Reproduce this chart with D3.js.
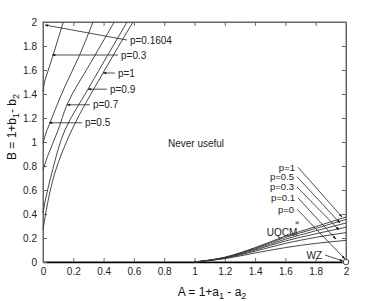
<!DOCTYPE html>
<html>
<head>
<meta charset="utf-8">
<script src="https://cdn.jsdelivr.net/npm/d3@7"></script>
<style>
body { margin: 0; background: #fff; }
text { font-family: "Liberation Sans", Arial, sans-serif; }
</style>
</head>
<body>
<div id="container"></div>
<script>
// left group: curves drawn as (A, B) points, one array per p
var leftP = ["0.3", "0.5", "0.7", "0.9", "1"];
var leftA = [
	[0, 0.01, 0.035, 0.066, 0.1, 0.134],
	[0, 0.013, 0.046, 0.14, 0.24, 0.33],
	[0, 0.03, 0.1, 0.158, 0.31, 0.47],
	[0, 0.013, 0.06, 0.145, 0.297, 0.555],
	[0, 0.02, 0.08, 0.19, 0.396, 0.594]
];
var leftB = [
	[1.42, 1.5, 1.6, 1.72, 1.86, 2],
	[0.99, 1.05, 1.16, 1.45, 1.72, 2],
	[0.77, 0.88, 1.1, 1.31, 1.65, 2],
	[0.41, 0.5, 0.75, 1.1, 1.44, 2],
	[0.27, 0.42, 0.75, 1.1, 1.575, 2]
];

// right group: all start at A=1
var rightA = [1, 1.2, 1.4, 1.6, 1.8, 2];
var rightB = [
	[0, 0.04, 0.12, 0.215, 0.295, 0.375],
	[0, 0.038, 0.115, 0.205, 0.28, 0.355],
	[0, 0.036, 0.108, 0.19, 0.26, 0.325],
	[0, 0.034, 0.1, 0.175, 0.235, 0.29],
	[0, 0.032, 0.09, 0.155, 0.205, 0.245],
	[0, 0.028, 0.075, 0.12, 0.155, 0.18]
];

var xTicks = [0, 0.2, 0.4, 0.6, 0.8, 1, 1.2, 1.4, 1.6, 1.8, 2];
var yTicks = [0, 0.2, 0.4, 0.6, 0.8, 1, 1.2, 1.4, 1.6, 1.8, 2];

// labels with arrows: text, tail (A,B), tip (A,B)
var arrowLabels = [
	{text: "p=0.1604", tail: [0.554, 1.85], tip: [0.013, 1.975], side: "left"},
	{text: "p=0.3", tail: [0.495, 1.725], tip: [0.06, 1.725], side: "left"},
	{text: "p=1", tail: [0.475, 1.575], tip: [0.396, 1.575], side: "left"},
	{text: "p=0.9", tail: [0.422, 1.44], tip: [0.297, 1.44], side: "left"},
	{text: "p=0.7", tail: [0.31, 1.31], tip: [0.158, 1.31], side: "left"},
	{text: "p=0.5", tail: [0.257, 1.16], tip: [0.04, 1.16], side: "left"},
	{text: "p=1", tail: [1.683, 0.79], tip: [1.974, 0.375], side: "right"},
	{text: "p=0.5", tail: [1.677, 0.71], tip: [1.96, 0.325], side: "right"},
	{text: "p=0.3", tail: [1.677, 0.625], tip: [1.954, 0.267], side: "right"},
	{text: "p=0.1", tail: [1.683, 0.535], tip: [1.934, 0.19], side: "right"},
	{text: "p=0", tail: [1.677, 0.44], tip: [1.993, 0.025], side: "right"},
	{text: "WZ", tail: [1.862, 0.058], tip: [1.98, 0.008], side: "right"}
];
var uqcm = [1.677, 0.333];
var wz = [2, 0];

(function()
{
	var W = 382, H = 301;
	var left = 43, right = 346, top = 22, bottom = 262;

	var svg = d3.select("#container").append("svg").attr("width", W).attr("height", H);

	var x = d3.scaleLinear().domain([0, 2]).range([left, right]);
	var y = d3.scaleLinear().domain([0, 2]).range([bottom, top]);

	var fmt = function(d) { return String(d); };

	svg.append("defs").append("marker")
		.attr("id", "head").attr("viewBox", "0 0 10 10")
		.attr("refX", 10).attr("refY", 5)
		.attr("markerWidth", 5).attr("markerHeight", 4)
		.attr("orient", "auto")
		.append("path").attr("d", "M0,1 L10,5 L0,9 z").attr("fill", "#111");

	// box
	svg.append("rect").attr("x", left).attr("y", top)
		.attr("width", right - left).attr("height", bottom - top)
		.attr("fill", "none").attr("stroke", "#666").attr("stroke-width", 1);

	var gx = svg.append("g").attr("transform", "translate(0," + bottom + ")")
		.call(d3.axisBottom(x).tickValues(xTicks).tickFormat(fmt).tickSizeInner(-4).tickSizeOuter(0).tickPadding(6));
	var gy = svg.append("g").attr("transform", "translate(" + left + ",0)")
		.call(d3.axisLeft(y).tickValues(yTicks).tickFormat(fmt).tickSizeInner(-4).tickSizeOuter(0).tickPadding(6));
	var gt = svg.append("g").attr("transform", "translate(0," + top + ")")
		.call(d3.axisTop(x).tickValues(xTicks).tickFormat("").tickSizeInner(-4).tickSizeOuter(0));
	var gr = svg.append("g").attr("transform", "translate(" + right + ",0)")
		.call(d3.axisRight(y).tickValues(yTicks).tickFormat("").tickSizeInner(-4).tickSizeOuter(0));

	[gx, gy, gt, gr].forEach(function(g)
	{
		g.select(".domain").attr("stroke", "#666");
		g.selectAll(".tick line").attr("stroke", "#666");
		g.selectAll(".tick text").attr("fill", "#222").style("font-size", "10px")
			.style("font-family", "Liberation Sans, Arial, sans-serif");
	});
	gx.select(".domain").attr("stroke", "#000").attr("stroke-width", 1.6);

	var line = d3.line().x(function(d) { return x(d[0]); }).y(function(d) { return y(d[1]); })
		.curve(d3.curveMonotoneY);
	var lineR = d3.line().x(function(d) { return x(d[0]); }).y(function(d) { return y(d[1]); })
		.curve(d3.curveMonotoneX);

	leftA.forEach(function(as, i)
	{
		var pts = as.map(function(a, j) { return [a, leftB[i][j]]; });
		svg.append("path").attr("d", line(pts)).attr("fill", "none")
			.attr("stroke", "#333").attr("stroke-width", 0.9);
	});

	rightB.forEach(function(bs)
	{
		var pts = rightA.map(function(a, j) { return [a, bs[j]]; });
		svg.append("path").attr("d", lineR(pts)).attr("fill", "none")
			.attr("stroke", "#333").attr("stroke-width", 0.9);
	});

	// arrows and their labels
	arrowLabels.forEach(function(l)
	{
		svg.append("line")
			.attr("x1", x(l.tail[0])).attr("y1", y(l.tail[1]))
			.attr("x2", x(l.tip[0])).attr("y2", y(l.tip[1]))
			.attr("stroke", "#222").attr("stroke-width", 0.8)
			.attr("marker-end", "url(#head)");
		var t = svg.append("text").text(l.text)
			.attr("y", y(l.tail[1])).attr("dy", "0.35em")
			.attr("fill", "#222");
		if (l.side == "left") t.attr("x", x(l.tail[0]) + 3).style("font-size", "10px");
		else t.attr("x", x(l.tail[0]) - 3).attr("text-anchor", "end")
			.style("font-size", l.text == "WZ" ? "10px" : "9.5px");
	});

	svg.append("text").text("\u00d7").attr("x", x(uqcm[0])).attr("y", y(uqcm[1]))
		.attr("dy", "0.35em").attr("text-anchor", "middle").style("font-size", "8px").attr("fill", "#222");
	svg.append("text").text("UQCM").attr("x", x(uqcm[0]) - 15).attr("y", y(uqcm[1]) + 14)
		.attr("text-anchor", "middle").style("font-size", "10px").attr("fill", "#222");

	svg.append("circle").attr("cx", x(wz[0])).attr("cy", y(wz[1])).attr("r", 2.8)
		.attr("fill", "#fff").attr("stroke", "#222").attr("stroke-width", 0.8);

	svg.append("text").text("Never useful").attr("x", 196).attr("y", 147)
		.attr("text-anchor", "middle").style("font-size", "10px").attr("fill", "#222");

	// axis titles
	var xl = svg.append("text").attr("x", 212).attr("y", 296).attr("text-anchor", "middle")
		.style("font-size", "12px").attr("fill", "#111");
	xl.append("tspan").text("A = 1+a");
	xl.append("tspan").text("1").attr("dy", 3).style("font-size", "9px");
	xl.append("tspan").text(" - a").attr("dy", -3);
	xl.append("tspan").text("2").attr("dy", 3).style("font-size", "9px");

	var yl = svg.append("text").attr("transform", "translate(16,127) rotate(-90)")
		.attr("text-anchor", "middle").style("font-size", "12px").attr("fill", "#111");
	yl.append("tspan").text("B = 1+b");
	yl.append("tspan").text("1").attr("dy", 3).style("font-size", "9px");
	yl.append("tspan").text("- b").attr("dy", -3);
	yl.append("tspan").text("2").attr("dy", 3).style("font-size", "9px");
})();
</script>
</body>
</html>
